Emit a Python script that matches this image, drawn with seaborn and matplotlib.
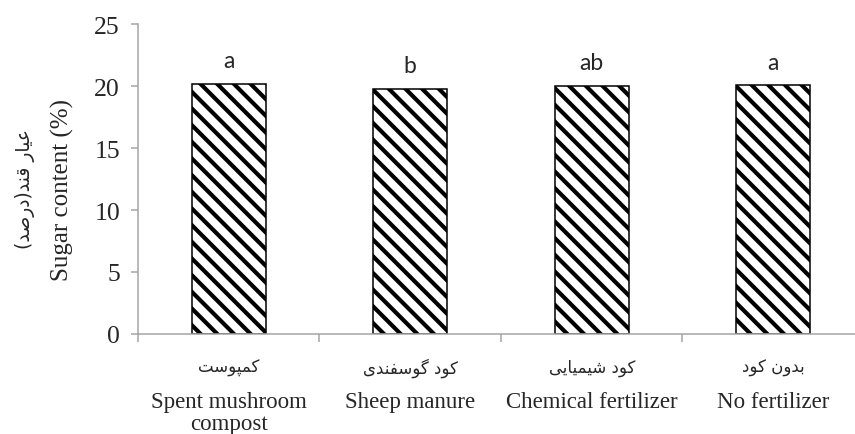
import numpy as np
import pandas as pd
import matplotlib
matplotlib.use('Agg')
import matplotlib.pyplot as plt
import seaborn as sns

# data
treatments = ['Spent mushroom\ncompost', 'Sheep manure', 'Chemical fertilizer', 'No fertilizer']
treatments_fa = ['کمپوست', 'کود گوسفندی', 'کود شیمیایی', 'بدون کود']
sugar = [20.2, 19.75, 20.0, 20.05]
groups = ['a', 'b', 'ab', 'a']
y_ticks = [0, 5, 10, 15, 20, 25]
ylab_en = 'Sugar content (%)'
ylab_fa = 'عیار قند(درصد)'

# minimal Persian shaping (matplotlib has no bidi / joining support)
FORMS = {
    'ا': (0xFE8D, 0xFE8E), 'د': (0xFEA9, 0xFEAA), 'ر': (0xFEAD, 0xFEAE),
    'و': (0xFEED, 0xFEEE), 'ى': (0xFEEF, 0xFEF0),
    'ب': (0xFE8F, 0xFE90, 0xFE91, 0xFE92), 'پ': (0xFB56, 0xFB57, 0xFB58, 0xFB59),
    'ت': (0xFE95, 0xFE96, 0xFE97, 0xFE98), 'س': (0xFEB1, 0xFEB2, 0xFEB3, 0xFEB4),
    'ش': (0xFEB5, 0xFEB6, 0xFEB7, 0xFEB8), 'ص': (0xFEB9, 0xFEBA, 0xFEBB, 0xFEBC),
    'ع': (0xFEC9, 0xFECA, 0xFECB, 0xFECC), 'ف': (0xFED1, 0xFED2, 0xFED3, 0xFED4),
    'ق': (0xFED5, 0xFED6, 0xFED7, 0xFED8), 'ک': (0xFB8E, 0xFB8F, 0xFB90, 0xFB91),
    'ك': (0xFED9, 0xFEDA, 0xFEDB, 0xFEDC), 'گ': (0xFB92, 0xFB93, 0xFB94, 0xFB95),
    'م': (0xFEE1, 0xFEE2, 0xFEE3, 0xFEE4), 'ن': (0xFEE5, 0xFEE6, 0xFEE7, 0xFEE8),
    'ی': (0xFBFC, 0xFBFD, 0xFBFE, 0xFBFF), 'ي': (0xFEF1, 0xFEF2, 0xFEF3, 0xFEF4),
}

def shape_fa(s):
    out = []
    for i, ch in enumerate(s):
        f = FORMS.get(ch)
        if f is None:
            out.append({'(': ')', ')': '('}.get(ch, ch))
            continue
        prev = s[i - 1] if i > 0 else ''
        nxt = s[i + 1] if i < len(s) - 1 else ''
        jp = prev in FORMS and len(FORMS[prev]) == 4
        jn = len(f) == 4 and nxt in FORMS
        if jp and jn:
            c = f[3]
        elif jp:
            c = f[1]
        elif jn:
            c = f[2]
        else:
            c = f[0]
        out.append(chr(c))
    return ''.join(reversed(out))

sns.set_style('ticks')
plt.rcParams['font.family'] = ['Liberation Serif', 'DejaVu Sans']
plt.rcParams['hatch.linewidth'] = 3.0

df = pd.DataFrame({'treatment': treatments, 'sugar': sugar})

fig = plt.figure(figsize=(8.55, 4.35), dpi=100)
ax = fig.add_axes([0.1614, 0.2299, 0.8491, 0.7126])
sns.barplot(data=df, x='treatment', y='sugar', color='white', edgecolor='black',
            linewidth=1.1, hatch='\\\\', width=0.41, errorbar=None, ax=ax)

grey = '#a6a6a6'
for s in ['top', 'right']:
    ax.spines[s].set_visible(False)
for s in ['left', 'bottom']:
    ax.spines[s].set_color(grey)
    ax.spines[s].set_linewidth(1.1)

ax.set_ylim(0, 25)
ax.set_yticks(y_ticks)
ax.set_xlim(-0.5, 3.5)
ax.set_xticks(range(len(treatments)))
ax.set_xticklabels(treatments, linespacing=1.05)
ax.set_xticks(np.arange(-0.5, len(treatments)), minor=True)
ax.tick_params(axis='y', direction='out', length=5, width=1.1, color=grey, labelsize=18.5, pad=8)
ax.tick_params(axis='x', which='major', length=0, labelsize=16.5, pad=41)
ax.tick_params(axis='x', which='minor', direction='out', length=6, width=1.1, color=grey)
ax.set_xlabel('')

# Persian category names above the English ones
for i, t in enumerate(treatments_fa):
    ax.text(i, -0.1065, shape_fa(t), transform=ax.get_xaxis_transform(),
            ha='center', va='center', family='DejaVu Sans', fontsize=12)

# significance letters
for i, (v, g) in enumerate(zip(sugar, groups)):
    ax.text(i, v + 1.35, g, ha='center', va='baseline', family='Lato', fontsize=16.5)

ax.set_ylabel(ylab_en, fontsize=18)
ax.yaxis.set_label_coords(-0.1047, 0.468)
ax.yaxis.label.set_va('center')
ax.text(-0.1556, 0.47, shape_fa(ylab_fa), rotation=90, transform=ax.transAxes,
        ha='center', va='center', family='DejaVu Sans', fontsize=13.5)

fig.savefig('out.png', dpi=100)
